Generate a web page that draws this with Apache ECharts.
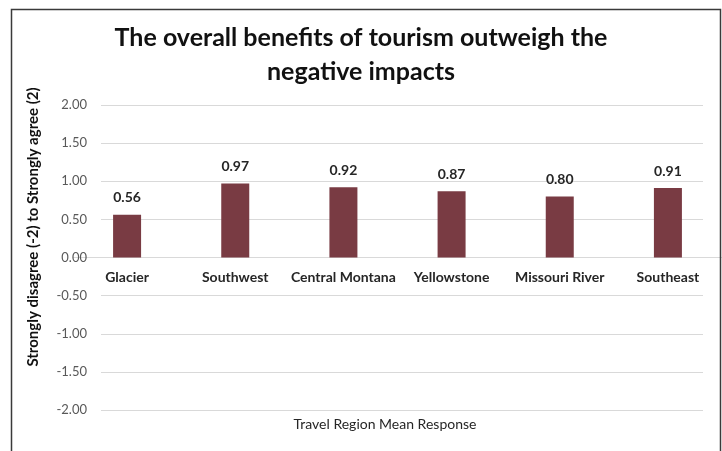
<!DOCTYPE html>
<html>
<head>
<meta charset="utf-8">
<script src="https://cdn.jsdelivr.net/npm/echarts@6/dist/echarts.min.js"></script>
<style>
  html, body { margin: 0; padding: 0; background: #fff; }
  #chart { width: 722px; height: 451px; }
</style>
</head>
<body>
<div id="chart"></div>
<script>
// Travel regions and their mean agreement scores
const regions = ['Glacier', 'Southwest', 'Central Montana', 'Yellowstone', 'Missouri River', 'Southeast'];
const meanResponse = [0.56, 0.97, 0.92, 0.87, 0.80, 0.91];
const yTicks = { min: -2, max: 2, interval: 0.5 };

const titleText = 'The overall benefits of tourism outweigh the\nnegative impacts';
const yName = 'Strongly disagree (-2) to Strongly agree (2)';
const xName = 'Travel Region Mean Response';

const font = 'Lato, "Open Sans", sans-serif';
const chart = echarts.init(document.getElementById('chart'), null, { renderer: 'canvas' });

// Plot area: full scale runs from 2.00 (top) to -2.00 (bottom)
const plotTop = 105, plotBottom = 41, plotHeight = 451 - plotTop - plotBottom;
// The bars sit on the upper half, whose bottom edge is the zero line
const zeroBottom = plotBottom + plotHeight * (0 - yTicks.min) / (yTicks.max - yTicks.min);

chart.setOption({
  backgroundColor: '#fff',
  animation: false,
  title: {
    text: titleText,
    left: 'center',
    top: 16,
    textStyle: { fontFamily: font, fontWeight: 'bold', fontSize: 25, color: '#111', lineHeight: 34 }
  },
  grid: [
    // value scale with gridlines
    { left: 101, right: 19, top: plotTop, bottom: plotBottom },
    // bars, from the zero line upward
    { left: 73, right: -8, top: plotTop, bottom: zeroBottom }
  ],
  xAxis: [
    { type: 'category', gridIndex: 0, data: regions, show: false },
    {
      type: 'category', gridIndex: 1, data: regions,
      axisLine: { show: true, lineStyle: { color: '#d9d9d9' } },
      axisTick: { show: false },
      axisLabel: { fontFamily: font, fontWeight: 'bold', fontSize: 14, color: '#262626', margin: 13, interval: 0 }
    }
  ],
  yAxis: [
    {
      type: 'value', gridIndex: 0, min: yTicks.min, max: yTicks.max, interval: yTicks.interval,
      axisLine: { show: false }, axisTick: { show: false },
      splitLine: { lineStyle: { color: '#d9d9d9', width: 1 } },
      axisLabel: {
        fontFamily: font, fontSize: 13, color: '#595959', margin: 14,
        formatter: v => v.toFixed(2)
      }
    },
    {
      type: 'value', gridIndex: 1, min: 0, max: yTicks.max, interval: yTicks.interval,
      axisLine: { show: false }, axisTick: { show: false },
      axisLabel: { show: false }, splitLine: { show: false }
    }
  ],
  graphic: [
    {
      type: 'rect', left: 9, top: 7, z: 100,
      shape: { width: 709, height: 470 },
      style: { fill: 'none', stroke: '#3a3a3a', lineWidth: 1.5 }
    },
    {
      type: 'text', x: 33, y: 227, rotation: Math.PI / 2, z: 100,
      style: {
        text: yName, fontFamily: font, fontWeight: 'bold', fontSize: 15, fill: '#111',
        align: 'center', verticalAlign: 'middle'
      }
    },
    {
      type: 'text', x: 385, y: 424, z: 100,
      style: {
        text: xName, fontFamily: font, fontSize: 14, fill: '#262626',
        align: 'center', verticalAlign: 'middle'
      }
    }
  ],
  series: [{
    type: 'bar',
    xAxisIndex: 1, yAxisIndex: 1,
    data: meanResponse,
    barWidth: 28,
    itemStyle: { color: '#793b43' },
    label: {
      show: true, position: 'top', distance: 10,
      fontFamily: font, fontWeight: 'bold', fontSize: 14, color: '#262626',
      formatter: p => p.value.toFixed(2)
    }
  }]
});
</script>
</body>
</html>
